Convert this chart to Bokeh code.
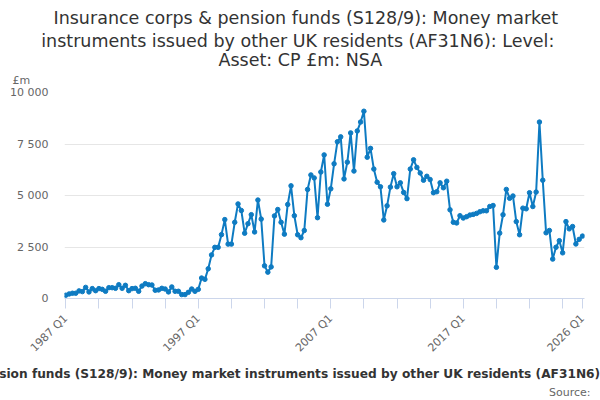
import math
from bokeh.plotting import figure
from bokeh.models import Range1d, FixedTicker, Title, ColumnDataSource
from bokeh.embed import file_html
from bokeh.resources import INLINE

# ---- data ----
start_year = 1987
values = [
    160, 220, 255, 255, 370, 335, 540, 320, 480, 380,
    480, 445, 350, 525, 525, 495, 670, 495, 640, 380,
    480, 495, 350, 605, 720, 670, 655, 400, 415, 495,
    460, 320, 560, 350, 350, 190, 190, 300, 460, 350,
    445,
    994, 930, 1442, 2115, 2484, 2484, 3100, 3830, 2640, 2640,
    3700, 4590, 4270, 3170, 3630, 4070, 3230, 4780, 3855, 1585,
    1280, 1535, 4010, 4320, 3700, 3125, 4565, 5470,
    4019, 3094, 2951, 3302, 5295, 5997, 5853, 3923, 6140, 6970,
    4577, 5327, 6539, 7608, 7847, 5805, 6619, 8038, 6188, 8134,
    8565, 9091, 6858, 7289, 6284, 5646, 5423, 3812, 4498, 5407,
    6061, 5423, 5614, 5150, 4848, 6284, 6731, 6364, 6093,
    5742, 5933, 5774, 5135, 5183, 5614, 5375, 5694, 4306, 3700,
    3668, 4019, 3907, 3971, 4051, 4083, 4131, 4211, 4258, 4258,
    4466, 4514, 1515, 3174, 4067, 5295, 4864, 4976, 3732, 3094,
    4386, 4354, 5135, 4466, 5167, 8565, 5742, 3190, 3302, 1914,
    2488, 2807, 2217, 3732, 3381, 3493, 2647, 2871, 3030,
]
quarters = [f"{start_year + k // 4} Q{k % 4 + 1}" for k in range(len(values))]
x_index = list(range(len(values)))

x_tick_positions = list(range(0, 151, 10)) + [156]
x_labelled = [0, 40, 80, 120, 156]
y_ticks = [0, 2500, 5000, 7500, 10000]
y_tick_labels = ["0", "2 500", "5 000", "7 500", "10 000"]

title_lines = [
    "Insurance corps & pension funds (S128/9): Money market",
    "instruments issued by other UK residents (AF31N6): Level:",
    "Asset: CP \u00a3m: NSA",
]
caption = ("Insurance corps & pension funds (S128/9): Money market instruments "
           "issued by other UK residents (AF31N6): Level: Asset: CP \u00a3m: NSA")
unit_label = "\u00a3m"
source_label = "Source:"

FONT = "DejaVu Sans"
LINE_COLOR = "#0e7bc2"

W, H = 600, 400
p = figure(width=W, height=H, output_backend="svg", toolbar_location=None,
           x_range=Range1d(-0.39, 156.6), y_range=Range1d(0, 10000),
           min_border_left=64, min_border_right=16, min_border_top=89,
           min_border_bottom=102)
p.outline_line_color = None
p.background_fill_color = "white"
p.border_fill_color = "white"

src = ColumnDataSource(dict(x=x_index, y=values, q=quarters))
p.line("x", "y", source=src, line_color=LINE_COLOR, line_width=2)
p.scatter("x", "y", source=src, size=4.5, fill_color=LINE_COLOR,
          line_color=LINE_COLOR)

# x axis
xa = p.xaxis[0]
xa.ticker = FixedTicker(ticks=x_tick_positions)
xa.major_label_overrides = {t: (quarters[t] if t in x_labelled else "")
                            for t in x_tick_positions}
xa.major_label_orientation = math.pi / 4
xa.axis_line_color = "#ccd6eb"
xa.major_tick_line_color = "#ccd6eb"
xa.major_tick_out = 10
xa.major_tick_in = 0
xa.minor_tick_line_color = None
xa.major_label_text_font = FONT
xa.major_label_text_font_size = "11px"
xa.major_label_text_color = "#666666"
xa.major_label_standoff = 8

# y axis
ya = p.yaxis[0]
ya.ticker = FixedTicker(ticks=y_ticks)
ya.major_label_overrides = {t: l for t, l in zip(y_ticks, y_tick_labels)}
ya.axis_line_color = None
ya.major_tick_line_color = None
ya.minor_tick_line_color = None
ya.major_tick_out = 0
ya.major_tick_in = 0
ya.major_label_standoff = 16
ya.major_label_text_font = FONT
ya.major_label_text_font_size = "11px"
ya.major_label_text_color = "#666666"

p.xgrid.grid_line_color = None
p.ygrid.ticker = FixedTicker(ticks=y_ticks)
p.ygrid.grid_line_color = "#e6e6e6"
p.ygrid.grid_line_width = 1

# above panel: closest to the frame first
p.add_layout(Title(text=unit_label, align="left", offset=-52, standoff=12,
                   text_font=FONT, text_font_size="11px",
                   text_font_style="normal", text_color="#666666"), "above")
title_offsets = [-11, -23.3, 154]
title_standoffs = [0.8, 0.8, -8]
for line, off, so in reversed(list(zip(title_lines, title_offsets, title_standoffs))):
    p.add_layout(Title(text=line, align="left", offset=off, standoff=so,
                       text_font=FONT, text_font_size="17.5px",
                       text_font_style="normal", text_color="#333333"), "above")
# small spacer at the very top
p.add_layout(Title(text=" ", align="left", standoff=1.8,
                   text_font=FONT, text_font_size="1px",
                   text_color="#ffffff"), "above")

# below panel
p.add_layout(Title(text=caption, align="left", offset=-219.5, standoff=4,
                   text_font=FONT, text_font_size="12.2px",
                   text_font_style="bold", text_color="#333333"), "below")
p.add_layout(Title(text=source_label, align="right", offset=-6, standoff=2,
                   text_font=FONT, text_font_size="11px",
                   text_font_style="normal", text_color="#666666"), "below")

open("out.html", "w").write(file_html(p, INLINE))
